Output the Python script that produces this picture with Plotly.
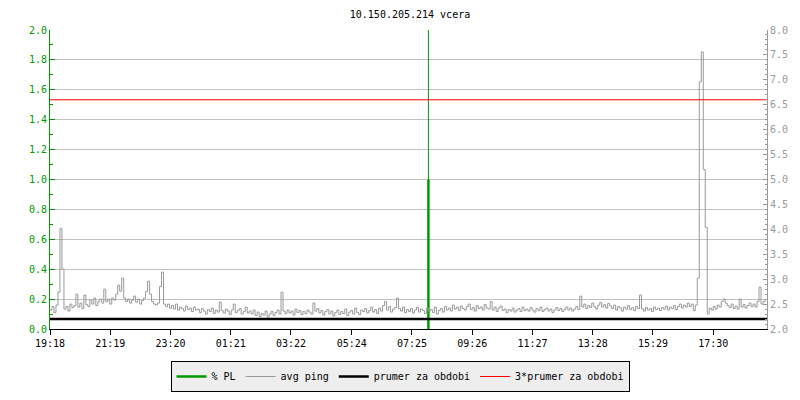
import plotly.graph_objects as go

title_text = "10.150.205.214 vcera"

# sample step (minutes) and avg ping values (ms), starting 19:18
step_min = 4
avg_ping = [
    2.38, 2.45, 2.33, 2.48, 2.74, 4.02, 3.20, 2.40, 2.45, 2.36, 2.50, 2.43, 2.47, 2.70, 2.44, 2.52, 2.41, 2.68, 2.49, 2.45,
    2.58, 2.50, 2.62, 2.47, 2.55, 2.60, 2.52, 2.80, 2.55, 2.60, 2.50, 2.62, 2.58, 2.70, 2.88, 2.76, 3.02, 2.62, 2.55, 2.60,
    2.52, 2.58, 2.66, 2.54, 2.60, 2.50, 2.57, 2.62, 2.75, 2.96, 2.70, 2.55, 2.50, 2.48, 2.52, 2.85, 3.14, 2.50, 2.45, 2.50,
    2.42, 2.47, 2.40, 2.50, 2.38, 2.44, 2.41, 2.36, 2.46, 2.39, 2.42, 2.35, 2.44, 2.38, 2.40, 2.33, 2.41, 2.36, 2.30, 2.39,
    2.35, 2.42, 2.31, 2.38, 2.34, 2.54, 2.37, 2.32, 2.40, 2.36, 2.29, 2.38, 2.50, 2.33, 2.37, 2.41, 2.30, 2.35, 2.44, 2.32,
    2.36, 2.30, 2.38, 2.27, 2.34, 2.25, 2.31, 2.28, 2.36, 2.24, 2.30, 2.35, 2.27, 2.33, 2.38, 2.30, 2.74, 2.36, 2.31, 2.38,
    2.32, 2.36, 2.28, 2.40, 2.33, 2.37, 2.29, 2.35, 2.31, 2.38, 2.34, 2.30, 2.52, 2.36, 2.41, 2.32, 2.37, 2.28, 2.35, 2.39,
    2.30, 2.36, 2.26, 2.33, 2.38, 2.29, 2.35, 2.31, 2.40, 2.27, 2.34, 2.37, 2.30, 2.42, 2.33, 2.29, 2.38, 2.35, 2.41, 2.32,
    2.37, 2.44, 2.34, 2.39, 2.31, 2.42, 2.36, 2.47, 2.55, 2.38, 2.45, 2.34, 2.40, 2.43, 2.62, 2.41, 2.36, 2.44, 2.33, 2.39,
    2.35, 2.41, 2.32, 2.38, 2.43, 2.34, 2.40, 2.37, 2.31, 2.42, 2.36, 2.39, 2.33, 2.44, 2.30, 2.37, 2.41, 2.34, 2.45, 2.38,
    2.42, 2.36, 2.48, 2.40, 2.44, 2.37, 2.46, 2.41, 2.38, 2.45, 2.50, 2.39, 2.43, 2.36, 2.47, 2.41, 2.44, 2.38, 2.49, 2.42,
    2.40, 2.55, 2.38, 2.44, 2.35, 2.42, 2.46, 2.37, 2.40, 2.33, 2.39, 2.36, 2.42, 2.34, 2.38, 2.41, 2.35, 2.44, 2.37, 2.40,
    2.36, 2.43, 2.38, 2.34, 2.41, 2.37, 2.44, 2.35, 2.39, 2.42, 2.36, 2.40, 2.33, 2.38, 2.43, 2.37, 2.41, 2.35, 2.39, 2.44,
    2.38, 2.42, 2.36, 2.40, 2.45, 2.39, 2.66, 2.44, 2.50, 2.41, 2.47, 2.43, 2.52, 2.45, 2.40, 2.48, 2.53, 2.44, 2.49, 2.42,
    2.51, 2.46, 2.41, 2.48, 2.38, 2.45, 2.42, 2.36, 2.44, 2.40, 2.47, 2.39, 2.43, 2.37, 2.45, 2.41, 2.68, 2.40, 2.36, 2.43,
    2.38, 2.41, 2.35, 2.44, 2.39, 2.42, 2.37, 2.43, 2.40, 2.46, 2.38, 2.44, 2.41, 2.47, 2.39, 2.45, 2.50, 2.42, 2.48, 2.44,
    2.52, 2.45, 2.50, 2.37, 2.48, 3.02, 6.96, 7.56, 5.20, 4.04, 2.30, 2.42, 2.38, 2.45, 2.40, 2.48, 2.44, 2.55, 2.60, 2.52,
    2.47, 2.43, 2.50, 2.41, 2.46, 2.40, 2.60, 2.44, 2.49, 2.42, 2.47, 2.52, 2.45, 2.50, 2.44, 2.55, 2.84, 2.50, 2.55, 2.60,
]
ping_times = [i * step_min for i in range(len(avg_ping))]
period_min = 1440

# packet loss events (minutes from start, %)
pl_times = [760]
pl_values = [1.0]
pl_outage_times = [760]
pl_outage_values = [100.0]

mean_ping = 2.2          # prumer za obdobi
mean_factor = 3          # 3*prumer za obdobi

tick_minutes = [0, 121, 242, 363, 484, 606, 727, 848, 969, 1090, 1211, 1332]
tick_labels = ["19:18", "21:19", "23:20", "01:21", "03:22", "05:24",
               "07:25", "09:26", "11:27", "13:28", "15:29", "17:30"]

GREEN = "#009900"
GRAY = "#999999"
FONT = "DejaVu Sans Mono"

# plot area in pixels (for the legend shadow placement)
PL_L, PL_R, PL_T, PL_B = 50, 770, 30, 330


def px2paper_x(p):
    return (p - PL_L) / (PL_R - PL_L)


def px2paper_y(p):
    return (PL_B - p) / (PL_B - PL_T)


def vsegments(ts, vs):
    xs, ys = [], []
    for t, v in zip(ts, vs):
        xs += [t, t, None]
        ys += [0, v, None]
    return xs, ys


fig = go.Figure()

fig.add_trace(go.Scatter(
    x=ping_times, y=avg_ping, mode="lines", name="avg ping",
    line=dict(color=GRAY, width=1, shape="hv"), yaxis="y2", legendrank=2))

fig.add_trace(go.Scatter(
    x=[0, period_min], y=[mean_ping, mean_ping], mode="lines",
    name="prumer za obdobi", line=dict(color="black", width=2.5),
    yaxis="y2", legendrank=3))

fig.add_trace(go.Scatter(
    x=[0, period_min], y=[mean_ping * mean_factor] * 2, mode="lines",
    name="3*prumer za obdobi", line=dict(color="#ff0000", width=1),
    yaxis="y2", legendrank=4))

ox, oy = vsegments(pl_outage_times, pl_outage_values)
fig.add_trace(go.Scatter(
    x=ox, y=oy, mode="lines", showlegend=False,
    line=dict(color=GREEN, width=1), yaxis="y"))

px_, py_ = vsegments(pl_times, pl_values)
fig.add_trace(go.Scatter(
    x=px_, y=py_, mode="lines", name="% PL",
    line=dict(color=GREEN, width=2.5), yaxis="y", legendrank=1))

# legend drop shadow
fig.add_shape(type="rect", xref="paper", yref="paper",
              x0=px2paper_x(175), x1=px2paper_x(632),
              y0=px2paper_y(364), y1=px2paper_y(387),
              fillcolor="#888888", line=dict(width=0), layer="above")

fig.update_layout(
    width=800, height=400,
    margin=dict(l=50, r=30, t=30, b=70),
    paper_bgcolor="white", plot_bgcolor="white",
    font=dict(family=FONT, size=10, color="black"),
    title=dict(text=title_text, x=0.5125, xanchor="center", y=0.965,
               yanchor="middle", font=dict(family=FONT, size=10, color="black")),
    showlegend=True,
    legend=dict(orientation="h", xref="container", yref="container",
                x=0.5, xanchor="center", y=0.0975, yanchor="top",
                bgcolor="#eeeeee", bordercolor="black", borderwidth=1,
                font=dict(family=FONT, size=10, color="black"),
                itemwidth=30, tracegroupgap=0),
    xaxis=dict(range=[0, period_min], tickmode="array", tickvals=tick_minutes,
               ticktext=tick_labels, ticks="outside", ticklen=5, tickcolor="black",
               showline=True, linecolor="black", linewidth=1, showgrid=False,
               zeroline=False, tickfont=dict(family=FONT, size=10, color="black")),
    yaxis=dict(range=[0, 2], dtick=0.2, tickformat=".1f", showgrid=True,
               gridcolor="#c0c0c0", gridwidth=1, ticks="inside", ticklen=5,
               tickcolor=GREEN, showline=True, linecolor=GREEN, linewidth=1,
               zeroline=False, tickfont=dict(family=FONT, size=10, color=GREEN),
               minor=dict(dtick=0.1, ticks="inside", ticklen=3, tickcolor=GREEN,
                          showgrid=False)),
    yaxis2=dict(range=[2, 8], dtick=0.5, tickformat=".1f", overlaying="y",
                side="right", showgrid=False, ticks="inside", ticklen=4,
                tickcolor=GRAY, showline=True, linecolor=GRAY, linewidth=1,
                zeroline=False, tickfont=dict(family=FONT, size=10, color=GRAY),
                minor=dict(dtick=0.1, ticks="inside", ticklen=2, tickcolor=GRAY,
                           showgrid=False)),
)

fig.write_html("out.html", config={"displayModeBar": False},
               post_script="document.body.style.margin='0';"
                           "document.body.style.padding='0';")
